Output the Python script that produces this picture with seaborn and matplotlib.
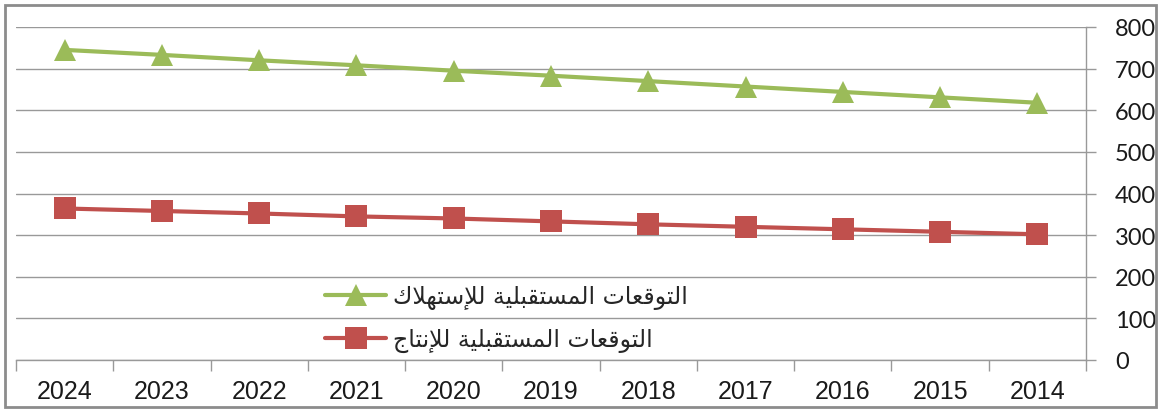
import pandas as pd
import numpy as np
import matplotlib
matplotlib.use("Agg")
import matplotlib.pyplot as plt
from matplotlib.patches import Rectangle
import seaborn as sns

# data
years = [2024, 2023, 2022, 2021, 2020, 2019, 2018, 2017, 2016, 2015, 2014]
consumption = [745, 733, 720, 708, 695, 683, 670, 657, 644, 631, 618]
production = [364, 358, 352, 345, 340, 333, 326, 320, 314, 308, 302]
series_names = ["التوقعات المستقبلية للإستهلاك", "التوقعات المستقبلية للإنتاج"]
y_ticks = [0, 100, 200, 300, 400, 500, 600, 700, 800]

GREEN = "#9BBB59"
RED = "#C0504D"
GRAY = "#999999"

# matplotlib has no arabic shaping, so pick presentation forms by hand
FORMS = {
    "\u0627": ("\uFE8D", "\uFE8E", None, None),
    "\u0625": ("\uFE87", "\uFE88", None, None),
    "\u0644": ("\uFEDD", "\uFEDE", "\uFEDF", "\uFEE0"),
    "\u062A": ("\uFE95", "\uFE96", "\uFE97", "\uFE98"),
    "\u0648": ("\uFEED", "\uFEEE", None, None),
    "\u0642": ("\uFED5", "\uFED6", "\uFED7", "\uFED8"),
    "\u0639": ("\uFEC9", "\uFECA", "\uFECB", "\uFECC"),
    "\u0645": ("\uFEE1", "\uFEE2", "\uFEE3", "\uFEE4"),
    "\u0633": ("\uFEB1", "\uFEB2", "\uFEB3", "\uFEB4"),
    "\u0628": ("\uFE8F", "\uFE90", "\uFE91", "\uFE92"),
    "\u064A": ("\uFEF1", "\uFEF2", "\uFEF3", "\uFEF4"),
    "\u0629": ("\uFE93", "\uFE94", None, None),
    "\u0647": ("\uFEE9", "\uFEEA", "\uFEEB", "\uFEEC"),
    "\u0643": ("\uFED9", "\uFEDA", "\uFEDB", "\uFEDC"),
    "\u0646": ("\uFEE5", "\uFEE6", "\uFEE7", "\uFEE8"),
    "\u062C": ("\uFE9D", "\uFE9E", "\uFE9F", "\uFEA0"),
}
LAM_ALEF = {"\u0627": ("\uFEFB", "\uFEFC", None, None),
            "\u0625": ("\uFEF9", "\uFEFA", None, None)}


def shape_arabic(text):
    toks = []
    i = 0
    while i < len(text):
        c = text[i]
        if c == "\u0644" and i + 1 < len(text) and text[i + 1] in LAM_ALEF:
            toks.append(LAM_ALEF[text[i + 1]])
            i += 2
        elif c in FORMS:
            toks.append(FORMS[c])
            i += 1
        else:
            toks.append(c)
            i += 1
    out = []
    for k, t in enumerate(toks):
        if isinstance(t, str):
            out.append(t)
            continue
        prev = toks[k - 1] if k > 0 else None
        nxt = toks[k + 1] if k + 1 < len(toks) else None
        join_prev = isinstance(prev, tuple) and prev[2] is not None
        join_next = isinstance(nxt, tuple) and t[2] is not None
        iso, fin, ini, med = t
        if join_prev and join_next:
            out.append(med)
        elif join_prev:
            out.append(fin)
        elif join_next:
            out.append(ini)
        else:
            out.append(iso)
    return "".join(reversed(out))


df = pd.DataFrame({
    "year": years * 2,
    "value": consumption + production,
    "series": [series_names[0]] * len(years) + [series_names[1]] * len(years),
})

sns.set_style("white")
fig = plt.figure(figsize=(11.58, 4.14), dpi=100)
ax = fig.add_axes([16 / 1158, 53 / 414, 1070 / 1158, 333 / 414])

sns.lineplot(data=df, x="year", y="value", hue="series", style="series",
             hue_order=series_names, style_order=series_names,
             palette=[GREEN, RED], markers=["^", "s"], dashes=False,
             linewidth=3, markersize=16, markeredgewidth=0, ax=ax)

ax.set_xlim(2024.5, 2013.5)
ax.set_ylim(0, 800)
ax.set_xlabel("")
ax.set_ylabel("")

# excel style category axis: ticks between years, labels at the years
bounds = np.arange(2013.5, 2025.5, 1.0)
ax.set_xticks(bounds)
ax.set_xticklabels([""] * len(bounds))
ax.set_xticks(years, minor=True)
ax.set_xticklabels([str(y) for y in years], minor=True,
                   fontfamily="Liberation Sans", fontsize=18, color="#1a1a1a")
ax.tick_params(axis="x", which="major", direction="out", length=8, width=1, color=GRAY, bottom=True)
ax.tick_params(axis="x", which="minor", length=0, pad=14)

ax.yaxis.tick_right()
ax.set_yticks(y_ticks)
ax.set_yticklabels([str(v) for v in y_ticks], fontfamily="Lato", fontsize=17, color="#1a1a1a")
ax.tick_params(axis="y", direction="out", length=7, width=1, color=GRAY, pad=14)

ax.grid(axis="y", color=GRAY, linewidth=1)
ax.grid(axis="x", visible=False)
ax.set_axisbelow(True)
for side in ["left", "top"]:
    ax.spines[side].set_visible(False)
for side in ["right", "bottom"]:
    ax.spines[side].set_color(GRAY)
    ax.spines[side].set_linewidth(1)

handles, labels = ax.get_legend_handles_labels()
leg = ax.legend(handles, [shape_arabic(l) for l in labels], loc="center left",
                bbox_to_anchor=(309 / 1070, 42 / 333), frameon=False,
                prop={"family": "DejaVu Sans", "size": 17},
                handlelength=2.6, handletextpad=0.3, labelspacing=0.75,
                borderpad=0, borderaxespad=0)
for h in leg.legend_handles:
    h.set_markersize(16)

fig.patches.append(Rectangle((5 / 1158, 6 / 414), 1151 / 1158, 402 / 414,
                             transform=fig.transFigure, fill=False,
                             edgecolor="#8C8C8C", linewidth=2))

fig.savefig("out.png", dpi=100)
